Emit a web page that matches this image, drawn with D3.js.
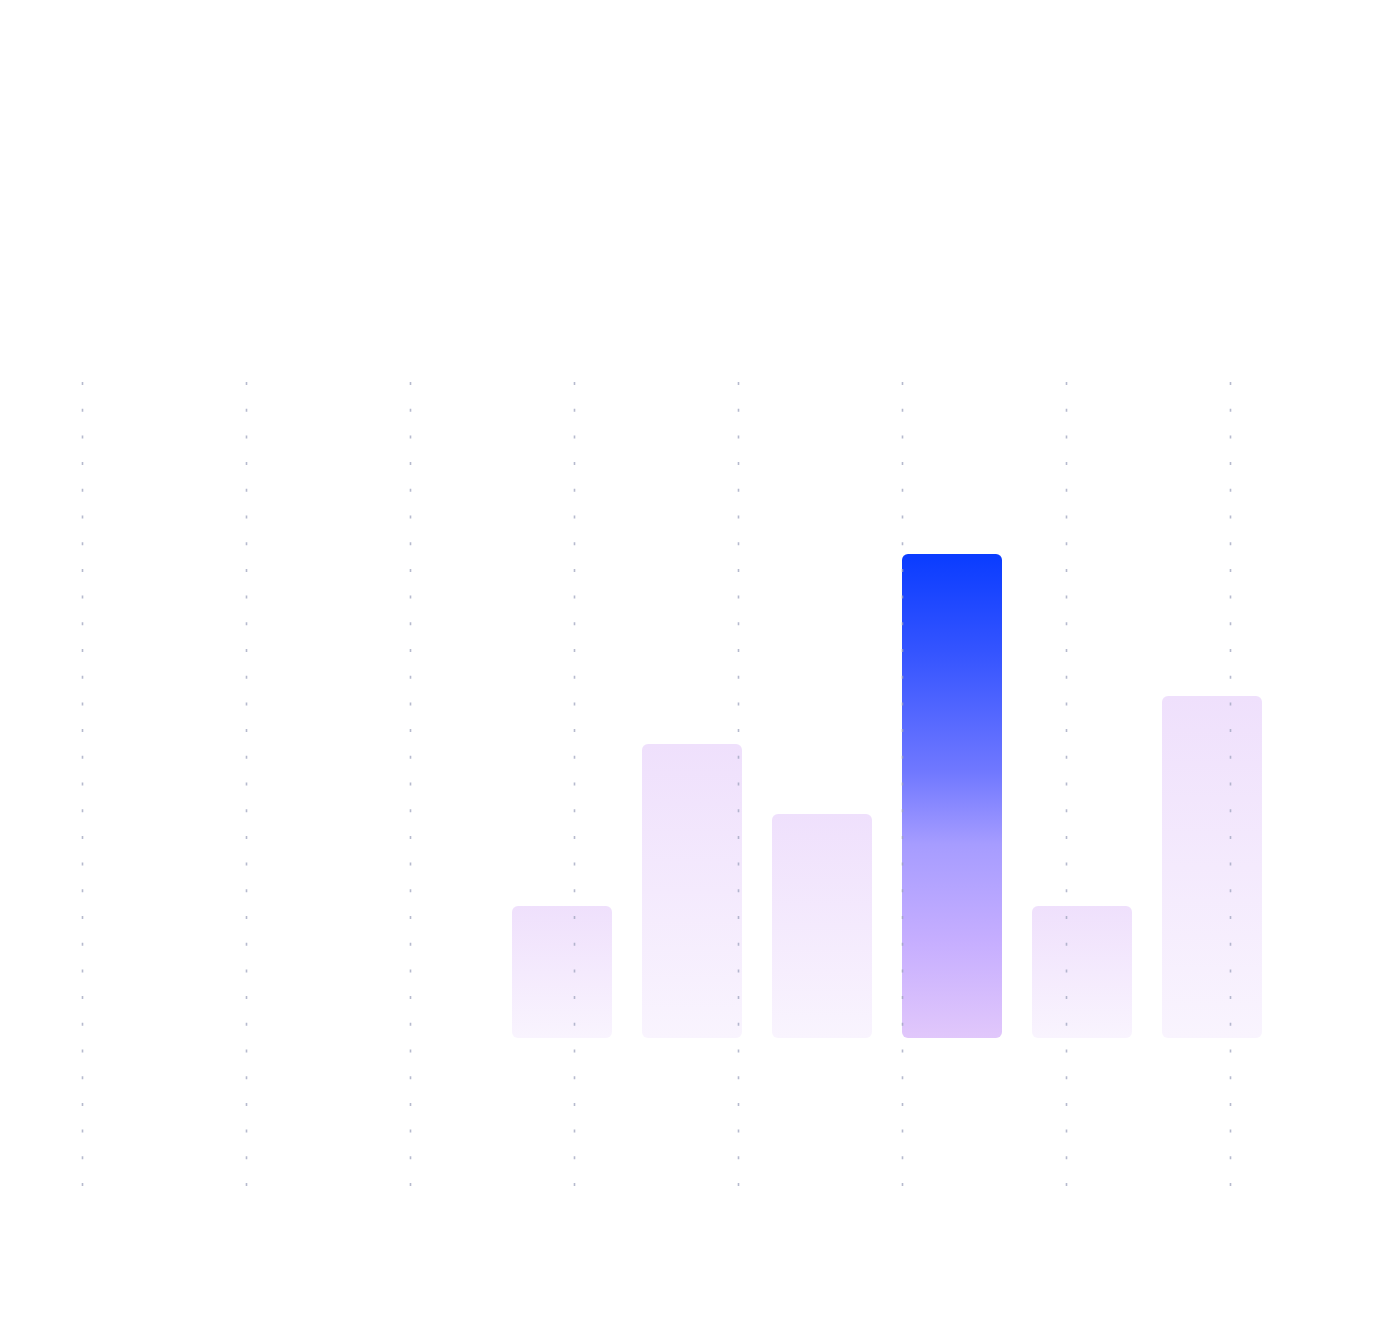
<!DOCTYPE html>
<html>
<head>
<meta charset="utf-8">
<script src="https://cdn.jsdelivr.net/npm/d3@7"></script>
<style>
  html, body { margin: 0; padding: 0; background: #ffffff; }
  svg { display: block; }
</style>
</head>
<body>
<svg id="chart" width="1376" height="1326"></svg>
<script>
// Data
const categories = ["A", "B", "C", "D", "E", "F"];
const values = [1.32, 2.94, 2.24, 4.84, 1.32, 3.42];
const highlightIndex = 3;
const gridTicks = [0, 1, 2, 3, 4, 5, 6, 7];

const svg = d3.select("#chart");

const x = d3.scaleBand()
  .domain(categories)
  .range([497, 1277])
  .paddingInner(30 / 130)
  .paddingOuter(15 / 130 / (1 - 0) );
// exact step control
x.range([497, 1277]).paddingInner(30/130).paddingOuter(0.5 * 30/130);

const y = d3.scaleLinear().domain([0, 4.84]).range([1038, 554]);

const gx = d3.scaleLinear().domain([0, 7]).range([82, 1230]);

const defs = svg.append("defs");
const gBlue = defs.append("linearGradient").attr("id", "gBlue")
  .attr("x1", 0).attr("y1", 0).attr("x2", 0).attr("y2", 1);
[[0, "#0a3cff"], [0.2, "#3454ff"], [0.45, "#7078ff"], [0.6, "#a69cff"], [0.8, "#c6aeff"], [1, "#e1c7fb"]]
  .forEach(([o, c]) => gBlue.append("stop").attr("offset", o).attr("stop-color", c));
const gLight = defs.append("linearGradient").attr("id", "gLight")
  .attr("x1", 0).attr("y1", 0).attr("x2", 0).attr("y2", 1);
[[0, "#efe0fc"], [1, "#f9f4fe"]]
  .forEach(([o, c]) => gLight.append("stop").attr("offset", o).attr("stop-color", c));

// Bars
svg.append("g").selectAll("rect")
  .data(values)
  .join("rect")
  .attr("x", (d, i) => x(categories[i]))
  .attr("width", x.bandwidth())
  .attr("y", d => y(d))
  .attr("height", d => y(0) - y(d))
  .attr("rx", 6).attr("ry", 6)
  .attr("fill", (d, i) => i === highlightIndex ? "url(#gBlue)" : "url(#gLight)");

// Dotted vertical grid lines (drawn above bars)
svg.append("g").selectAll("line")
  .data(gridTicks)
  .join("line")
  .attr("x1", d => Math.round(gx(d)) + 0.5)
  .attr("x2", d => Math.round(gx(d)) + 0.5)
  .attr("y1", 382)
  .attr("y2", 1186)
  .attr("stroke", "#9ea3bd")
  .attr("stroke-opacity", 0.75)
  .attr("stroke-width", 1.6)
  .attr("stroke-dasharray", "3 23.7");
</script>
</body>
</html>
